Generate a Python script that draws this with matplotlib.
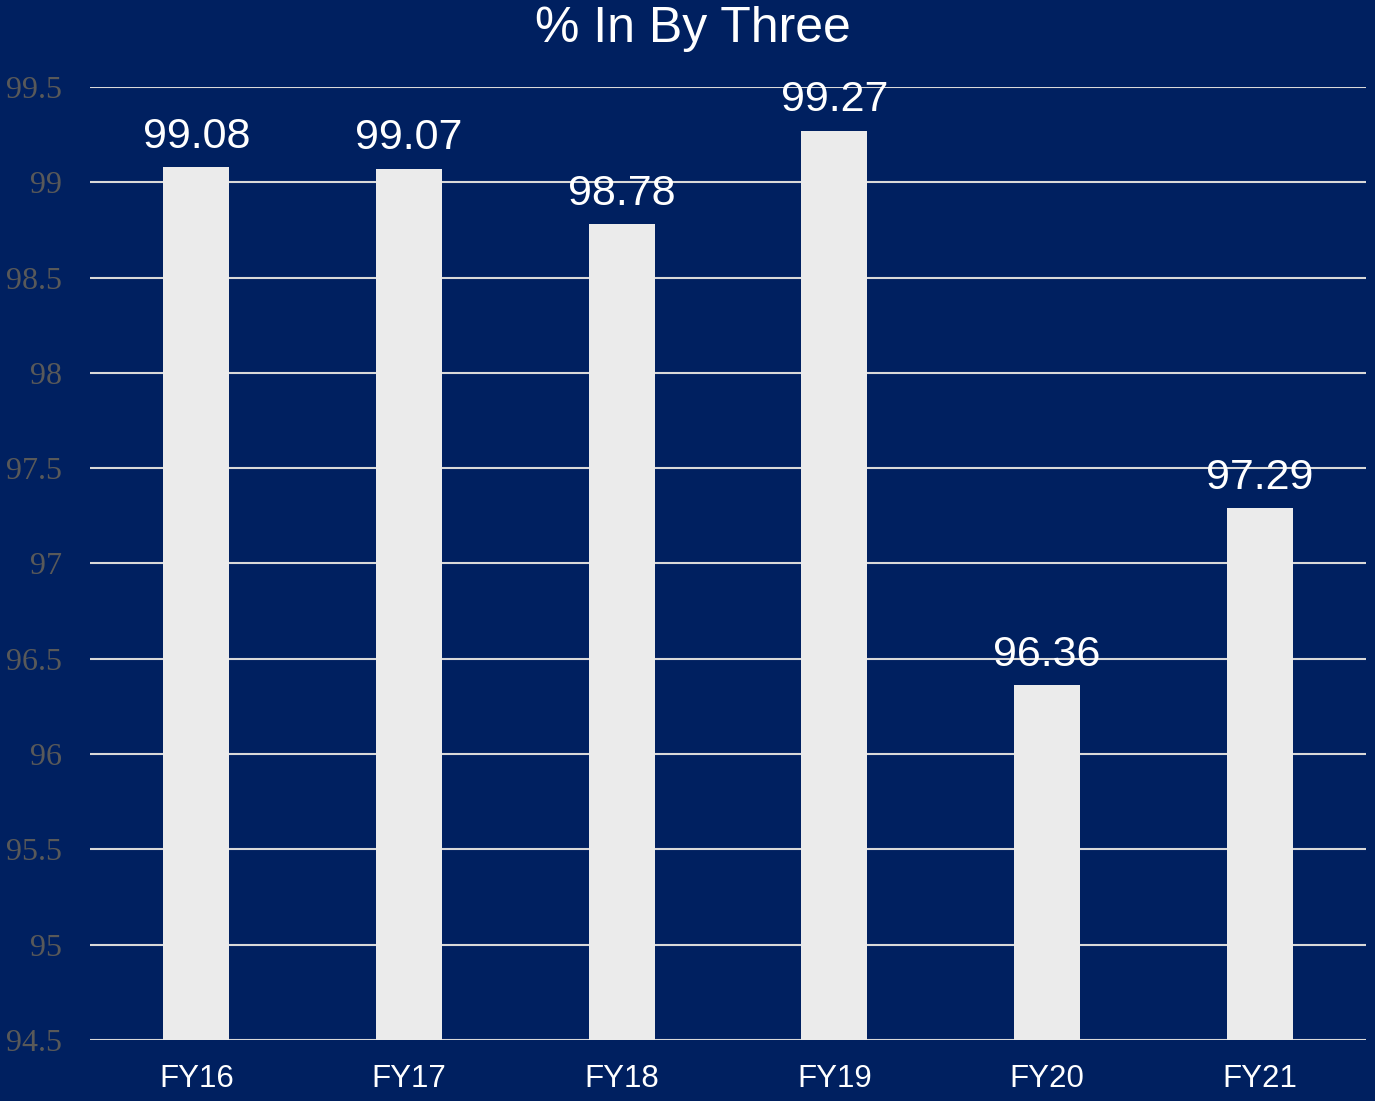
import matplotlib.pyplot as plt

years = ["FY16", "FY17", "FY18", "FY19", "FY20", "FY21"]
pct_in = [99.08, 99.07, 98.78, 99.27, 96.36, 97.29]
y_ticks = [94.5, 95, 95.5, 96, 96.5, 97, 97.5, 98, 98.5, 99, 99.5]

bg = "#002060"

fig = plt.figure(figsize=(13.75, 11.01), dpi=100, facecolor=bg)
ax = fig.add_axes([0.0655, 0.0554, 0.928, 0.8656], facecolor=bg)

x = range(len(years))
ax.bar(x, pct_in, width=0.31, color="#EBEBEB", zorder=3)

for xi, v in zip(x, pct_in):
    ax.annotate(f"{v:.2f}", (xi, v), xytext=(0, 14), textcoords="offset points",
                ha="center", va="baseline", color="white", fontsize=31,
                family="Liberation Sans")

ax.set_ylim(94.5, 99.5)
ax.set_xlim(-0.5, len(years) - 0.5)
ax.set_yticks(y_ticks)
ax.set_yticklabels([f"{t:g}" for t in y_ticks], family="Liberation Serif",
                   fontsize=23, color="#595959")
ax.set_xticks(list(x))
ax.set_xticklabels(years, family="Liberation Sans", fontsize=22.5, color="white")
ax.tick_params(axis="both", length=0)
ax.tick_params(axis="y", pad=20)
ax.tick_params(axis="x", pad=17)
ax.grid(axis="y", color="#D9D9D9", linewidth=1.5, zorder=0)
for s in ax.spines.values():
    s.set_visible(False)

fig.text(0.504, 1 - 42 / 1101, "% In By Three", ha="center", va="baseline",
         color="white", fontsize=36, family="Liberation Sans")

fig.savefig("out.png", dpi=100, facecolor=bg)
